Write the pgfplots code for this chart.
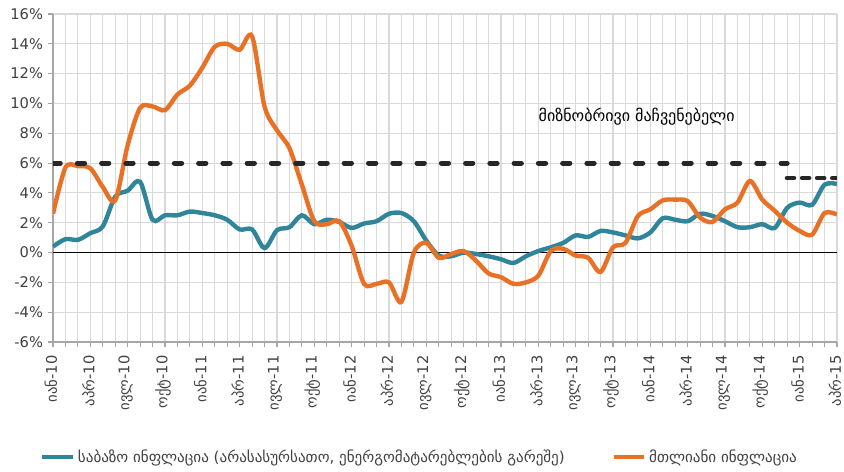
\documentclass[border=0pt]{standalone}
\usepackage{fontspec}
\setmainfont{DejaVu Sans}
\usepackage{pgfplots}
\pgfplotsset{compat=1.18}
\definecolor{tealc}{RGB}{49,133,155}
\definecolor{orngc}{RGB}{232,113,38}
\definecolor{gridc}{RGB}{217,217,217}
\definecolor{axc}{RGB}{166,166,166}
\definecolor{txt}{RGB}{64,64,64}
\begin{document}
\begin{tikzpicture}
\begin{axis}[
  scale only axis, width=588pt, height=246pt,
  xmin=0, xmax=63, ymin=-6, ymax=16,
  ytick={-6,-4,...,16},
  yticklabel={\pgfmathprintnumber{\tick}\%},
  /pgf/number format/assume math mode=true,
  xtick={0,3,...,63},
  minor xtick={0,1,...,63},
  xticklabels={იან-10,აპრ-10,ივლ-10,ოქტ-10,იან-11,აპრ-11,ივლ-11,ოქტ-11,იან-12,აპრ-12,ივლ-12,ოქტ-12,იან-13,აპრ-13,ივლ-13,ოქტ-13,იან-14,აპრ-14,ივლ-14,ოქტ-14,იან-15,აპრ-15},
  xticklabel style={rotate=90, anchor=east, font=\fontsize{11}{12}\selectfont, text=txt, inner sep=1pt, yshift=1.5pt},
  xticklabel shift=5pt,
  yticklabel style={font=\fontsize{11}{13}\selectfont, text=txt},
  grid=both,
  major grid style={gridc, line width=0.8pt},
  minor grid style={gridc, line width=0.8pt},
  axis x line*=bottom, axis y line*=left,
  axis line style={axc, line width=0.8pt},
  tick style={axc, line width=0.8pt},
  tick align=outside, major tick length=4pt, minor tick length=4pt,
  legend style={at={(axis description cs:-0.0166,-0.35)}, anchor=west, draw=none, fill=none,
    legend columns=2, font=\fontsize{11.3}{13}\selectfont, text=txt, inner sep=0pt,
    /tikz/every even column/.append style={column sep=33pt}},
  legend image code/.code={\draw[#1] (0pt,0pt) -- (23pt,0pt);},
  legend cell align=left,
]
\addplot[black, line width=0.8pt, forget plot] coordinates {(0,0) (63,0)};
\addplot[tealc, line width=3.3pt, smooth] coordinates {
(0,0.4) (1,0.9) (2,0.85) (3,1.3) (4,1.75) (5,3.75) (6,4.15) (7,4.75) (8,2.2) (9,2.5)
(10,2.5) (11,2.75) (12,2.65) (13,2.5) (14,2.2) (15,1.55) (16,1.55) (17,0.3) (18,1.5) (19,1.7)
(20,2.5) (21,1.9) (22,2.2) (23,2.05) (24,1.65) (25,1.95) (26,2.1) (27,2.6) (28,2.65) (29,2.1)
(30,0.8) (31,-0.2) (32,-0.25) (33,0.0) (34,-0.1) (35,-0.25) (36,-0.45) (37,-0.7) (38,-0.25) (39,0.1)
(40,0.35) (41,0.65) (42,1.15) (43,1.05) (44,1.45) (45,1.35) (46,1.15) (47,0.95) (48,1.35) (49,2.3)
(50,2.2) (51,2.1) (52,2.6) (53,2.45) (54,2.1) (55,1.7) (56,1.7) (57,1.9) (58,1.65) (59,3.0)
(60,3.35) (61,3.2) (62,4.55) (63,4.6)};
\addlegendentry{საბაზო ინფლაცია (არასასურსათო, ენერგომატარებლების გარეშე)}
\addplot[orngc, line width=3.3pt, smooth] coordinates {
(0,2.6) (1,5.7) (2,5.8) (3,5.65) (4,4.4) (5,3.5) (6,7.2) (7,9.7) (8,9.8) (9,9.55)
(10,10.6) (11,11.2) (12,12.4) (13,13.8) (14,14.0) (15,13.6) (16,14.5) (17,9.8) (18,8.2) (19,7.0)
(20,4.55) (21,2.1) (22,1.9) (23,2.1) (24,0.45) (25,-2.1) (26,-2.1) (27,-2.0) (28,-3.3) (29,0.0)
(30,0.65) (31,-0.35) (32,-0.1) (33,0.1) (34,-0.55) (35,-1.4) (36,-1.65) (37,-2.1) (38,-2.0) (39,-1.55)
(40,0.1) (41,0.25) (42,-0.2) (43,-0.35) (44,-1.3) (45,0.35) (46,0.65) (47,2.45) (48,2.9) (49,3.5)
(50,3.55) (51,3.45) (52,2.35) (53,2.05) (54,2.9) (55,3.35) (56,4.8) (57,3.55) (58,2.8) (59,2.0)
(60,1.45) (61,1.2) (62,2.65) (63,2.55)};
\addlegendentry{მთლიანი ინფლაცია}
\addplot[black!85, line width=3.7pt, line cap=round, dash pattern=on 5.5pt off 12.7pt, forget plot] coordinates {(0,6) (59,6)};
\addplot[black!85, line width=3.7pt, line cap=round, dash pattern=on 5pt off 6.3pt, forget plot] coordinates {(59,5) (63,5)};
\node[font=\fontsize{12}{14}\selectfont, text=black] at (axis cs:46.9,9.1) {მიზნობრივი მაჩვენებელი};
\end{axis}
\pgfresetboundingbox
\path (-39.75pt,-97.5pt) rectangle (593.25pt,256.5pt);
\end{tikzpicture}
\end{document}
